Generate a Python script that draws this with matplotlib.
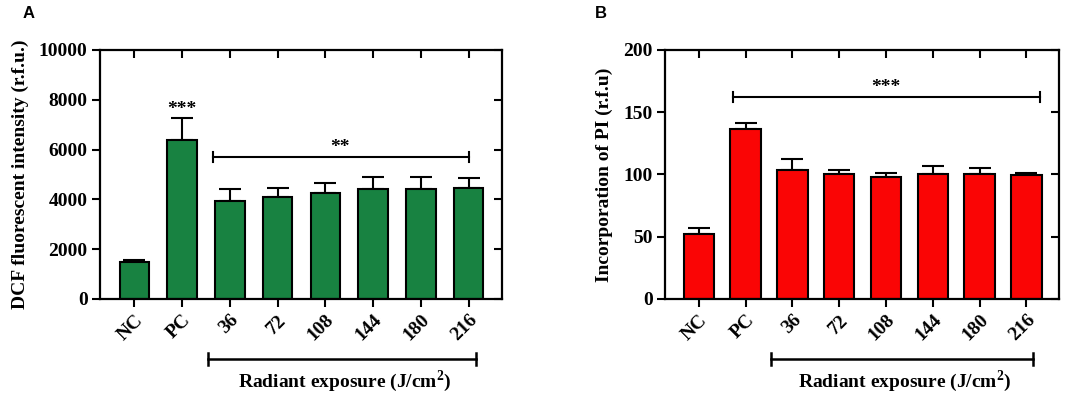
import numpy as np
import matplotlib.pyplot as plt

plt.rcParams['font.family'] = 'Liberation Serif'
plt.rcParams['font.weight'] = 'bold'
plt.rcParams['mathtext.fontset'] = 'custom'
plt.rcParams['mathtext.rm'] = 'Liberation Serif:bold'
plt.rcParams['mathtext.bf'] = 'Liberation Serif:bold'

groups = ['NC', 'PC', '36', '72', '108', '144', '180', '216']

# panel A: DCF fluorescence
dcf_mean = [1480, 6400, 3920, 4110, 4270, 4430, 4410, 4470]
dcf_err = [75, 880, 500, 340, 400, 480, 500, 380]

# panel B: PI incorporation
pi_mean = [52.5, 136.5, 103.5, 100.2, 97.8, 100.2, 100.2, 99.6]
pi_err = [4.5, 4.5, 9.0, 3.4, 3.7, 6.4, 4.8, 1.6]

GREEN = '#188241'
RED = '#fa0505'
FS = 14

fig = plt.figure(figsize=(10.84, 3.93), dpi=100)
axA = fig.add_axes([0.0923, 0.2392, 0.3708, 0.6336])
axB = fig.add_axes([0.6135, 0.2392, 0.3635, 0.6336])


def draw_panel(ax, means, errs, color, ymax, ystep, ylabel, width):
    x = np.arange(len(groups))
    ax.bar(x, means, width=width, color=color, edgecolor='black', linewidth=1.5, zorder=2)
    ax.errorbar(x, means, yerr=[np.zeros(len(x)), errs], fmt='none', ecolor='black',
                elinewidth=1.5, capsize=8, capthick=1.5, zorder=1)
    ax.set_xlim(-0.72, len(x) - 1 + 0.7)
    ax.set_ylim(0, ymax)
    ax.set_yticks(np.arange(0, ymax + 1, ystep))
    ax.set_xticks(x)
    ax.set_xticklabels(groups, rotation=45, ha='right', rotation_mode='anchor')
    for s in ax.spines.values():
        s.set_linewidth(1.6)
    ax.tick_params(axis='both', which='major', length=6, width=1.5, labelsize=FS, pad=3)
    ax.tick_params(top=True, right=True, direction='out')
    # top/right ticks point inward like GraphPad mirror ticks
    for t in ax.xaxis.get_major_ticks():
        t.tick2line.set_marker(3)
    for t in ax.yaxis.get_major_ticks():
        t.tick2line.set_marker(0)
    ax.set_ylabel(ylabel, fontsize=FS, fontweight='bold', labelpad=7)
    for lab in ax.get_xticklabels() + ax.get_yticklabels():
        lab.set_fontweight('bold')
    # radiant exposure bracket under the axis
    trans = ax.get_xaxis_transform()
    ax.plot([1.55, 7.15], [-0.24, -0.24], color='black', lw=1.8, transform=trans, clip_on=False)
    for xe in [1.55, 7.15]:
        ax.plot([xe, xe], [-0.265, -0.215], color='black', lw=1.8, transform=trans, clip_on=False)
    ax.text(4.4, -0.33, 'Radiant exposure (J/cm$^{2}$)', transform=trans,
            ha='center', va='center', fontsize=FS, fontweight='bold')


draw_panel(axA, dcf_mean, dcf_err, GREEN, 10000, 2000,
           'DCF fluorescent intensity (r.f.u.)', 0.62)
draw_panel(axB, pi_mean, pi_err, RED, 200, 50,
           'Incorporation of PI (r.f.u)', 0.65)

# significance marks, panel A
axA.text(1, 7600, '***', ha='center', va='center', fontsize=FS)
axA.plot([1.65, 7.0], [5720, 5720], color='black', lw=1.5)
for xe in [1.65, 7.0]:
    axA.plot([xe, xe], [5720 - 200, 5720 + 200], color='black', lw=1.5)
axA.text(4.3, 6100, '**', ha='center', va='center', fontsize=FS)

# significance marks, panel B
axB.plot([0.73, 7.3], [162.5, 162.5], color='black', lw=1.5)
for xe in [0.73, 7.3]:
    axB.plot([xe, xe], [162.5 - 4, 162.5 + 4], color='black', lw=1.5)
axB.text(4.0, 170, '***', ha='center', va='center', fontsize=FS)

fig.text(29 / 1084, 1 - 14 / 393, 'A', family='Liberation Sans', fontweight='bold',
         fontsize=12, ha='center', va='center')
fig.text(601 / 1084, 1 - 14 / 393, 'B', family='Liberation Sans', fontweight='bold',
         fontsize=12, ha='center', va='center')

fig.savefig('out.png', dpi=100)
